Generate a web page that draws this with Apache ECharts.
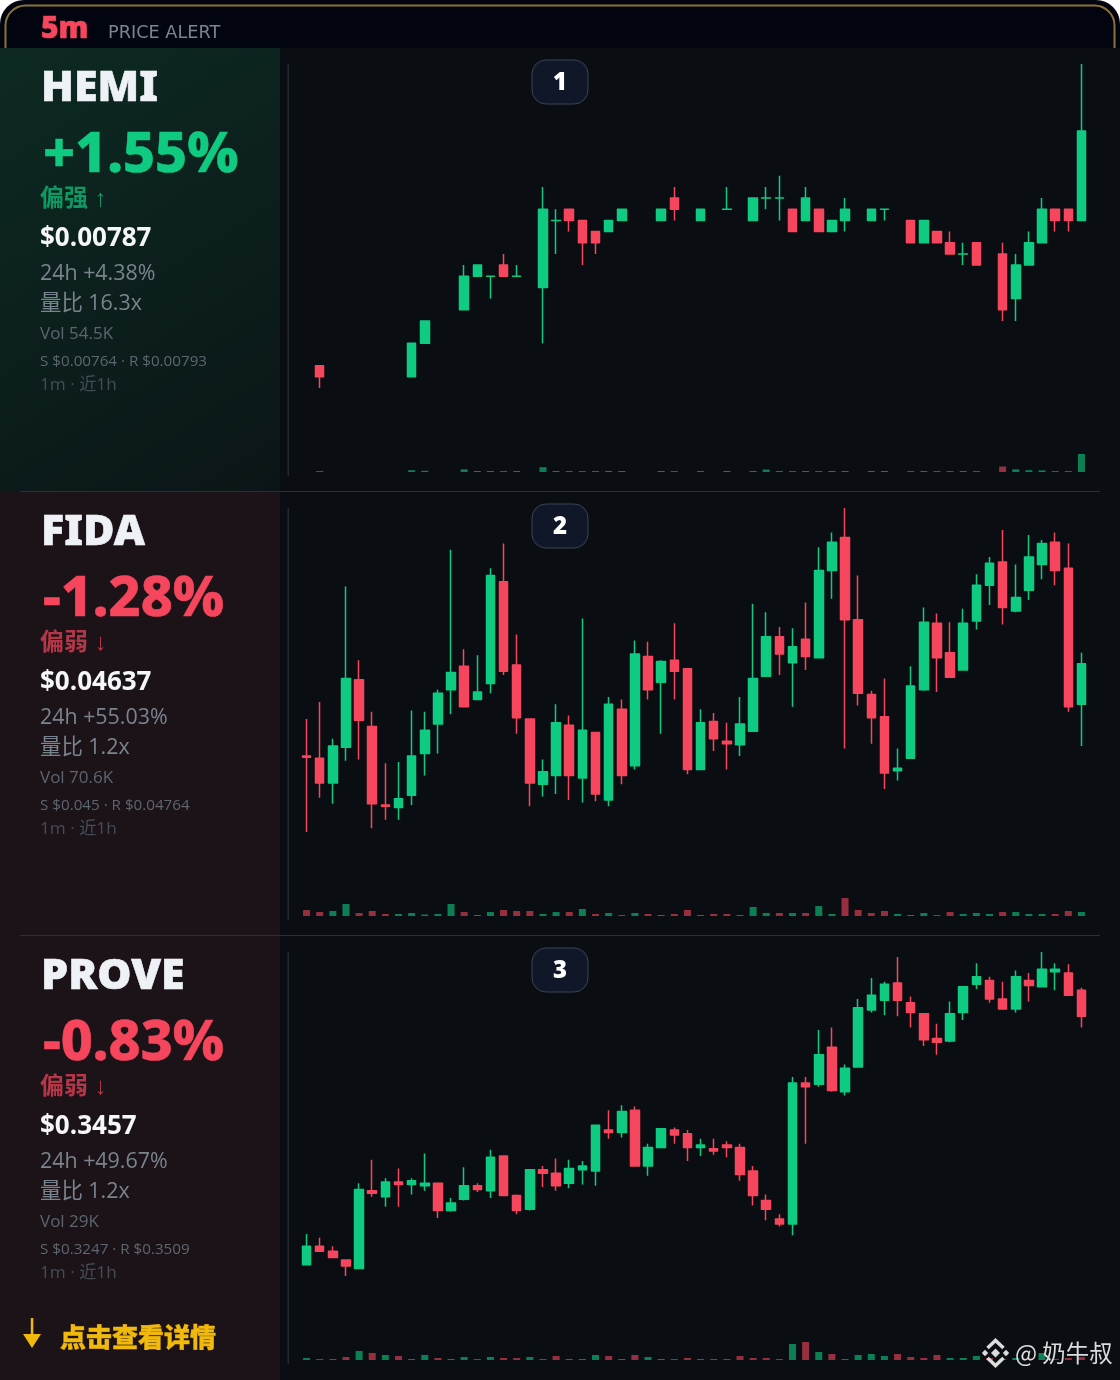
<!DOCTYPE html>
<html>
<head>
<meta charset="utf-8">
<title>5m price alert</title>
<script src="https://cdn.jsdelivr.net/npm/echarts@6/dist/echarts.min.js"></script>
<style>
  html, body { margin: 0; padding: 0; background: #ffffff; }
  #main { width: 1120px; height: 1380px; }
</style>
</head>
<body>
<div id="main"></div>
<script>
// 每根K线: 开 收 低 高, null = 这一分钟没有成交
var hemiOpen = [null,0.00766,null,null,null,null,null,null,0.00765,0.00768,null,null,0.00771,0.00774,0.00774,0.00775,0.00774,null,0.00773,0.00779,
  0.0078,0.00779,0.00778,0.00778,0.00779,null,null,0.00779,0.00781,null,0.00779,null,0.0078,null,0.00779,0.00781,0.00781,0.0078,0.00779,0.0078,
  0.00778,0.00779,null,0.00779,0.0078,null,0.00779,0.00777,0.00778,0.00777,0.00776,0.00777,null,0.00776,0.00772,0.00775,0.00777,0.0078,0.0078,0.00779];
var hemiClose = [null,0.00765,null,null,null,null,null,null,0.00768,0.0077,null,null,0.00774,0.00775,0.00774,0.00774,0.00774,null,0.0078,0.00779,
  0.00779,0.00777,0.00777,0.00779,0.0078,null,null,0.0078,0.0078,null,0.0078,null,0.0078,null,0.00781,0.00781,0.00781,0.00778,0.00781,0.00778,
  0.00779,0.0078,null,0.0078,0.0078,null,0.00777,0.00779,0.00777,0.00776,0.00776,0.00775,null,0.00771,0.00775,0.00777,0.0078,0.00779,0.00779,0.00787];
var hemiLow = [null,0.00764,null,null,null,null,null,null,0.00765,0.00768,null,null,0.00771,0.00774,0.00772,0.00774,0.00774,null,0.00768,0.00776,
  0.00778,0.00775,0.00776,0.00778,0.00779,null,null,0.00779,0.00779,null,0.00779,null,0.0078,null,0.00779,0.0078,0.00779,0.00778,0.00779,0.00778,
  0.00778,0.00778,null,0.00779,0.00779,null,0.00777,0.00777,0.00777,0.00776,0.00775,0.00775,null,0.0077,0.0077,0.00775,0.00777,0.00778,0.00778,0.00779];
var hemiHigh = [null,0.00766,null,null,null,null,null,null,0.00768,0.0077,null,null,0.00775,0.00775,0.00774,0.00776,0.00775,null,0.00782,0.0078,
  0.0078,0.00779,0.00778,0.00779,0.0078,null,null,0.0078,0.00782,null,0.0078,null,0.00782,null,0.00781,0.00782,0.00783,0.0078,0.00782,0.0078,
  0.00779,0.00781,null,0.0078,0.0078,null,0.00779,0.00779,0.00778,0.00778,0.00777,0.00777,null,0.00777,0.00776,0.00778,0.00781,0.0078,0.0078,0.00793];
var hemiVol = [null,2.4,null,null,null,null,null,null,5.5,3.6,null,null,8.2,2.1,3,2.6,2,null,14.5,1.8,
  2.5,3,2.2,2,2,null,null,1.7,2.3,null,1.9,null,1.6,null,1.8,7.5,2.6,2.2,2.4,2.1,
  1.9,1.8,null,1.7,1.8,null,2.4,1.6,2.1,1.9,2.2,1.8,null,16.5,8,5.5,5,2.3,1.9,54.5];

var fidaOpen = [0.04562,0.0456,0.0454,0.04569,0.04624,0.04586,0.04522,0.0452,0.0453,0.04564,0.04588,0.04616,0.04635,0.04608,0.04621,0.04704,0.04636,0.04592,0.04539,0.04546,
  0.04587,0.04544,0.04581,0.04526,0.046,0.04554,0.04643,0.04622,0.0464,0.04633,0.04551,0.0459,0.04574,0.04571,0.04582,0.04627,0.04659,0.04638,0.04657,0.04642,
  0.04713,0.0474,0.04673,0.04612,0.04594,0.0455,0.0456,0.04616,0.0467,0.04646,0.04632,0.04672,0.04701,0.0472,0.0468,0.04697,0.04718,0.04736,0.04715,0.04604];
var fidaClose = [0.04561,0.0454,0.0457,0.04625,0.04591,0.04523,0.04521,0.04527,0.04562,0.04583,0.04613,0.0463,0.04602,0.04614,0.04709,0.04631,0.04593,0.0454,0.04549,0.04589,
  0.04546,0.04583,0.04531,0.04604,0.04546,0.04645,0.04616,0.04639,0.04631,0.04551,0.04589,0.04576,0.04572,0.04588,0.04625,0.04659,0.04645,0.04651,0.04643,0.04713,
  0.04736,0.04673,0.04613,0.04593,0.04548,0.04552,0.04619,0.04671,0.04642,0.04626,0.0467,0.04701,0.04719,0.04683,0.04691,0.04724,0.04735,0.04713,0.04602,0.04637];
var fidaLow = [0.045,0.04528,0.04523,0.04558,0.04559,0.04503,0.0451,0.0451,0.04522,0.04546,0.04564,0.04596,0.04602,0.04608,0.04613,0.04628,0.0458,0.04521,0.04529,0.04531,
  0.04526,0.04524,0.04525,0.04521,0.04539,0.04551,0.04608,0.0458,0.04608,0.04547,0.04551,0.04566,0.04551,0.04562,0.04582,0.04627,0.04628,0.04602,0.04632,0.04642,
  0.0469,0.04568,0.04603,0.04572,0.04535,0.04542,0.0456,0.04615,0.04614,0.04626,0.04632,0.04665,0.04685,0.04669,0.04679,0.04689,0.04706,0.04701,0.04598,0.0457];
var fidaHigh = [0.04592,0.04606,0.04576,0.047,0.0464,0.04598,0.04556,0.04557,0.04599,0.04598,0.04616,0.0473,0.04649,0.04644,0.04715,0.04735,0.04661,0.04592,0.04559,0.04604,
  0.04595,0.04674,0.04581,0.0461,0.04608,0.04656,0.04655,0.0464,0.0467,0.04633,0.046,0.04597,0.04589,0.0461,0.04686,0.04679,0.04667,0.04666,0.04687,0.04732,
  0.04744,0.04764,0.04709,0.04615,0.04625,0.04568,0.04635,0.04683,0.04678,0.04671,0.04682,0.0471,0.04724,0.04746,0.04718,0.04742,0.04738,0.04744,0.04735,0.04646];
var fidaVol = [106,70,88,212,53,88,35,35,53,26,35,212,70,18,70,106,88,88,35,70,
  70,124,35,53,18,53,35,18,35,106,18,35,35,18,159,53,53,53,53,176,
  35,318,106,53,88,35,18,53,18,70,35,53,35,70,70,35,35,35,88,70.6];

var proveOpen = [0.3256,0.3271,0.3267,0.326,0.3253,0.3316,0.3311,0.3323,0.3321,0.332,0.3322,0.33,0.3309,0.332,0.3316,0.3344,0.3312,0.3301,0.3333,0.333,
  0.3322,0.3333,0.3332,0.3365,0.3363,0.3381,0.3336,0.3351,0.3365,0.3362,0.3351,0.335,0.3353,0.3351,0.3332,0.3308,0.3293,0.3289,0.3403,0.3402,
  0.3432,0.3396,0.3416,0.3462,0.347,0.3484,0.3468,0.3459,0.3439,0.3437,0.346,0.3483,0.3486,0.3471,0.3463,0.3486,0.3481,0.3493,0.3492,0.3478];
var proveClose = [0.3271,0.3267,0.3262,0.3255,0.3317,0.3314,0.3323,0.3321,0.3324,0.3322,0.33,0.3306,0.332,0.3317,0.3343,0.3312,0.33,0.3333,0.333,0.332,
  0.3334,0.3336,0.3369,0.3363,0.338,0.3336,0.3351,0.3366,0.3361,0.3351,0.3353,0.3348,0.3351,0.3329,0.3312,0.3301,0.3289,0.3403,0.34,0.3426,
  0.3397,0.3415,0.3464,0.3474,0.3483,0.347,0.346,0.3438,0.3436,0.3459,0.3481,0.3489,0.3471,0.3463,0.3489,0.3482,0.3495,0.3495,0.3474,0.3457];
var proveLow = [0.3256,0.3267,0.3262,0.3247,0.3253,0.3311,0.3303,0.3303,0.3313,0.3316,0.3294,0.3299,0.3308,0.3315,0.331,0.3312,0.3297,0.33,0.3319,0.3316,
  0.3318,0.3321,0.332,0.3358,0.3359,0.3336,0.3328,0.3351,0.3354,0.334,0.3344,0.3345,0.3343,0.3324,0.3304,0.3292,0.3287,0.328,0.3354,0.34,
  0.3396,0.3393,0.3416,0.346,0.3458,0.3457,0.3448,0.3433,0.3426,0.3436,0.3454,0.3479,0.3468,0.3463,0.346,0.3469,0.3481,0.3478,0.3474,0.3448];
var proveHigh = [0.3281,0.3278,0.3271,0.326,0.3322,0.3341,0.3326,0.3334,0.3326,0.3346,0.3322,0.331,0.3335,0.3322,0.3349,0.3344,0.3313,0.3333,0.3336,0.3342,
  0.3341,0.334,0.3369,0.3381,0.3385,0.3384,0.3354,0.3366,0.3367,0.3365,0.3358,0.3358,0.3356,0.3354,0.3336,0.3313,0.3297,0.3408,0.3408,0.3446,
  0.3448,0.3418,0.3471,0.3488,0.3485,0.3505,0.3473,0.3459,0.3451,0.3469,0.3481,0.35,0.3489,0.3485,0.3494,0.3492,0.3509,0.35,0.3499,0.348];
var proveVol = [20,10,10,30,90,70,50,40,10,50,20,10,30,10,30,20,20,30,10,40,
  10,10,50,40,10,50,30,10,10,20,10,10,10,40,20,20,10,160,180,80,
  60,10,50,60,40,60,30,20,50,20,20,40,20,10,20,15,70,10,20,29];

var categories = [];
for (var m = 0; m < 60; m++) categories.push(String(m));

var symbols = ['HEMI', 'FIDA', 'PROVE'];
var changes = ['+1.55%', '-1.28%', '-0.83%'];
var trends = ['偏强 ↑', '偏弱 ↓', '偏弱 ↓'];
var prices = ['$0.00787', '$0.04637', '$0.3457'];
var change24h = ['24h +4.38%', '24h +55.03%', '24h +49.67%'];
var volRatio = ['量比 16.3x', '量比 1.2x', '量比 1.2x'];
var volLabel = ['Vol 54.5K', 'Vol 70.6K', 'Vol 29K'];
var levels = ['S $0.00764 · R $0.00793', 'S $0.045 · R $0.04764', 'S $0.3247 · R $0.3509'];
var priceMin = [0.00764, 0.045, 0.3247];
var priceMax = [0.00793, 0.04764, 0.3509];
var volMax = [54.5, 318, 180];

var UP = '#0ecb81', DOWN = '#f6465d';
var PANEL_H = 444, HEADER_H = 48;
var SANS = '"Open Sans", "Noto Sans CJK SC", sans-serif';
var HEAVY = '"Noto Sans", "Noto Sans CJK SC", sans-serif';

var panels = [
  { open: hemiOpen, close: hemiClose, low: hemiLow, high: hemiHigh, vol: hemiVol },
  { open: fidaOpen, close: fidaClose, low: fidaLow, high: fidaHigh, vol: fidaVol },
  { open: proveOpen, close: proveClose, low: proveLow, high: proveHigh, vol: proveVol }
];

function txt(x, y, text, font, fill, extra) {
  var style = { x: x, y: y, text: text, font: font, fill: fill, textAlign: 'left', textVerticalAlign: 'middle' };
  for (var k in (extra || {})) style[k] = extra[k];
  return { type: 'text', silent: true, z: 20, style: style };
}

var graphics = [];
// 顶部, 四角露出白底
graphics.push({ type: 'rect', z: 0, shape: { x: 0, y: 0, width: 1120, height: 60, r: [24, 24, 0, 0] }, style: { fill: '#02040f' } });
graphics.push({ type: 'rect', z: 0, shape: { x: 5.5, y: 5.5, width: 1109, height: 60, r: [20, 20, 0, 0] }, style: { fill: 'transparent', stroke: '#8a7238', lineWidth: 2 } });
graphics.push(txt(41, 29, '5m', '900 30px ' + HEAVY, DOWN, { stroke: DOWN, lineWidth: 0.6 }));
graphics.push(txt(108, 33, 'PRICE ALERT', '400 17.7px "DejaVu Sans"', '#7c8494'));

symbols.forEach(function (name, i) {
  var top = HEADER_H + PANEL_H * i;
  var up = changes[i].charAt(0) === '+';
  var main = up ? UP : DOWN;
  // 面板背景
  graphics.push({ type: 'rect', z: 1, shape: { x: 0, y: top, width: 1120, height: PANEL_H }, style: { fill: '#0a0e12' } });
  graphics.push({
    type: 'rect', z: 1, shape: { x: 0, y: top, width: 280, height: PANEL_H },
    style: {
      fill: up
        ? new echarts.graphic.LinearGradient(0, 0, 1, 1, [{ offset: 0, color: '#0d2a22' }, { offset: 1, color: '#0b1517' }])
        : '#1c1318'
    }
  });
  if (i > 0) {
    graphics.push({ type: 'rect', z: 3, shape: { x: 20, y: top - 1, width: 1080, height: 1 }, style: { fill: '#2b3036' } });
  }
  graphics.push({ type: 'rect', z: 3, shape: { x: 287.5, y: top + 16, width: 1.5, height: 412 }, style: { fill: '#24292e' } });

  // 序号
  graphics.push({ type: 'rect', z: 10, shape: { x: 532, y: top + 12, width: 56, height: 44, r: 14 }, style: { fill: '#0f1729', stroke: '#3b4452', lineWidth: 1 } });
  graphics.push(txt(560, top + 35, String(i + 1), '800 24px ' + SANS, '#ffffff', { textAlign: 'center' }));

  // 左侧文字
  graphics.push(txt(41, top + 41, name, '900 43px ' + HEAVY, '#eef1f6', { stroke: '#eef1f6', lineWidth: 0.6 }));
  graphics.push(txt(43, top + 108, changes[i], '800 55.5px ' + HEAVY, main, { stroke: main, lineWidth: 0.6, shadowBlur: 14, shadowColor: main + '66' }));
  graphics.push(txt(40, top + 151, trends[i], '700 24px "Liberation Sans", "Noto Sans CJK SC"', main, { opacity: 0.7 }));
  graphics.push(txt(40, top + 191, prices[i], '700 26px ' + SANS, '#f4f6f8'));
  graphics.push(txt(40, top + 226, change24h[i], '400 21.4px ' + SANS, '#7a848e'));
  graphics.push(txt(40, top + 256, volRatio[i], '400 21.4px ' + SANS, '#7a848e'));
  graphics.push(txt(40, top + 286, volLabel[i], '400 17px ' + SANS, '#5d6670'));
  graphics.push(txt(40, top + 314, levels[i], '400 15.2px ' + SANS, '#5d6670'));
  graphics.push(txt(40, top + 337, '1m · 近1h', '400 17.2px ' + SANS, '#444d57'));
});

// 底部提示
var GOLD = '#f0b90b';
graphics.push({ type: 'rect', z: 20, shape: { x: 30.8, y: 1318, width: 2.5, height: 20 }, style: { fill: GOLD } });
graphics.push({ type: 'polygon', z: 20, shape: { points: [[23, 1334], [41, 1334], [32, 1348]] }, style: { fill: GOLD } });
graphics.push(txt(60, 1337, '点击查看详情', '900 26px "Noto Sans CJK SC"', GOLD, { stroke: GOLD, lineWidth: 0.4, shadowBlur: 6, shadowColor: GOLD + '88' }));

// 水印
var MARK = '#dcdcdc';
[[995.5, 1353, 4.5], [985, 1353, 3.2], [1006, 1353, 3.2]].forEach(function (d) {
  var s = d[2];
  graphics.push({ type: 'polygon', z: 30, shape: { points: [[d[0], d[1] - s], [d[0] + s, d[1]], [d[0], d[1] + s], [d[0] - s, d[1]]] }, style: { fill: MARK } });
});
graphics.push({ type: 'polyline', z: 30, shape: { points: [[987.5, 1348], [995.5, 1340.5], [1003.5, 1348]] }, style: { fill: 'none', stroke: MARK, lineWidth: 3.5 } });
graphics.push({ type: 'polyline', z: 30, shape: { points: [[987.5, 1358], [995.5, 1365.5], [1003.5, 1358]] }, style: { fill: 'none', stroke: MARK, lineWidth: 3.5 } });
var wm = txt(1015, 1353, '@ 奶牛叔', '400 23.4px "Noto Sans CJK SC"', MARK);
wm.z = 30;
graphics.push(wm);

var grids = [], xAxes = [], yAxes = [], series = [];
panels.forEach(function (p, i) {
  var top = HEADER_H + PANEL_H * i;
  grids.push({ left: 300, width: 788, top: top + 16, height: 324 });
  grids.push({ left: 300, width: 788, top: top + 406, height: 18 });
  [0, 1].forEach(function (k) {
    var idx = i * 2 + k;
    xAxes.push({ type: 'category', gridIndex: idx, data: categories, show: false, boundaryGap: true });
    yAxes.push(k === 0
      ? { type: 'value', gridIndex: idx, show: false, min: priceMin[i], max: priceMax[i], splitLine: { show: false } }
      : { type: 'value', gridIndex: idx, show: false, min: 0, max: volMax[i], splitLine: { show: false } });
  });
  series.push({
    type: 'candlestick', xAxisIndex: i * 2, yAxisIndex: i * 2, barWidth: 9, clip: false, silent: true, z: 5,
    itemStyle: {
      color: UP, color0: DOWN, borderColor: UP, borderColor0: DOWN, borderColorDoji: UP,
      borderWidth: 1.5, borderJoin: 'round'
    },
    data: p.open.map(function (o, n) {
      return o === null ? ['-', '-', '-', '-'] : [o, p.close[n], p.low[n], p.high[n]];
    })
  });
  series.push({
    type: 'bar', xAxisIndex: i * 2 + 1, yAxisIndex: i * 2 + 1, barWidth: 7, barMinHeight: 1, silent: true, z: 5,
    itemStyle: {
      opacity: 0.6,
      color: function (params) { return p.close[params.dataIndex] >= p.open[params.dataIndex] ? UP : DOWN; }
    },
    data: p.vol
  });
});

var chart = echarts.init(document.getElementById('main'));
chart.setOption({
  animation: false,
  grid: grids,
  xAxis: xAxes,
  yAxis: yAxes,
  graphic: { elements: graphics },
  series: series
});
</script>
</body>
</html>
